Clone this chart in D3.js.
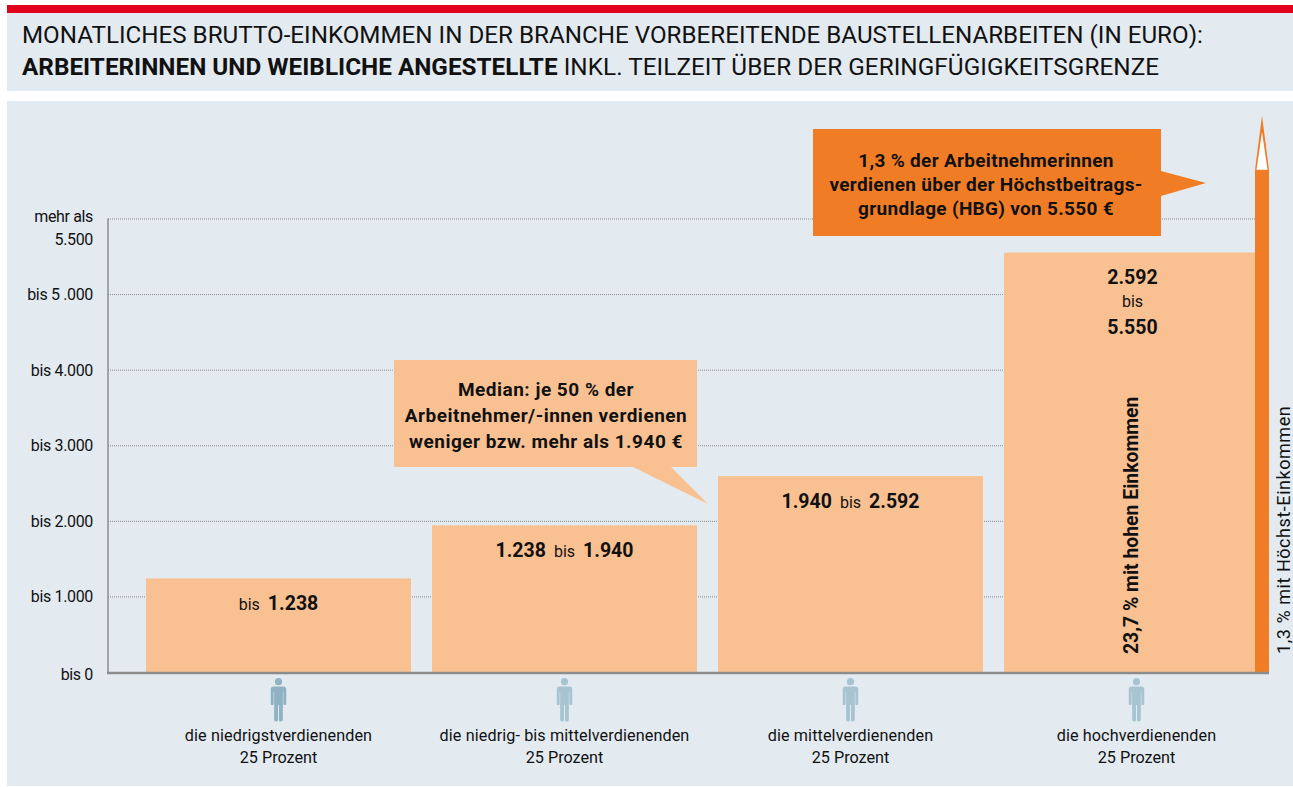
<!DOCTYPE html>
<html>
<head>
<meta charset="utf-8">
<script src="https://cdn.jsdelivr.net/npm/d3@7"></script>
<style>
  html, body { margin: 0; padding: 0; background: #fff; }
  svg { display: block; }
  text { font-family: Roboto, sans-serif; fill: #111; }
  .grid line { stroke: #8a8a8a; stroke-width: 1; stroke-dasharray: 1 1; }
  .grid .domain { display: none; }
</style>
</head>
<body>
<div id="chart"></div>
<script>
const groups = ["die niedrigstverdienenden", "die niedrig- bis mittelverdienenden", "die mittelverdienenden", "die hochverdienenden"];
const upperValues = [1238, 1940, 2592, 5550];
const iconColors = ["#8fb3c3", "#a8c4d2", "#a8c4d2", "#a8c4d2"];
const tickValues = [0, 1000, 2000, 3000, 4000, 5000, 6000];
const tickLabels = ["bis 0", "bis 1.000", "bis 2.000", "bis 3.000", "bis 4.000", "bis 5 .000", "mehr als|5.500"];
const topBarValue = 6645;

const width = 1293;
const height = 787;
const baseY = 672;

const x = d3.scaleBand().domain(groups).range([146, 1269]).paddingInner(21 / 286).paddingOuter(0);
const y = d3.scaleLinear().domain([0, 6000]).range([baseY, 218.5]);

const svg = d3.select("#chart").append("svg")
  .attr("width", width)
  .attr("height", height);

// header
svg.append("rect").attr("x", 7).attr("y", 13).attr("width", width - 7).attr("height", 78).attr("fill", "#e3ebf1");
svg.append("rect").attr("x", 7).attr("y", 5).attr("width", width - 7).attr("height", 8).attr("fill", "#e2001a");
svg.append("rect").attr("x", 7).attr("y", 101).attr("width", width - 7).attr("height", 685).attr("fill", "#e3ebf1");

svg.append("text").attr("x", 22).attr("y", 43).attr("font-size", 24.2)
  .text("MONATLICHES BRUTTO-EINKOMMEN IN DER BRANCHE VORBEREITENDE BAUSTELLENARBEITEN (IN EURO):");
const title2 = svg.append("text").attr("x", 22).attr("y", 75).attr("font-size", 24.3);
title2.append("tspan").attr("font-weight", 700).text("ARBEITERINNEN UND WEIBLICHE ANGESTELLTE");
title2.append("tspan").attr("letter-spacing", 0.05).text(" INKL. TEILZEIT ÜBER DER GERINGFÜGIGKEITSGRENZE");

// axis + dotted grid
const axis = svg.append("g").attr("class", "grid")
  .attr("transform", "translate(108,0)")
  .call(d3.axisRight(y).tickValues(tickValues.slice(1)).tickSize(1147).tickFormat(""));
axis.selectAll("text").remove();

const tickLabel = svg.append("g").selectAll("text")
  .data(tickValues)
  .enter().append("text")
  .attr("text-anchor", "end")
  .attr("font-size", 16)
  .attr("letter-spacing", -0.35)
  .attr("y", (d, i) => y(d) + (i === 6 ? 3 : i === 0 ? 8 : 6));
tickLabel.each(function(d, i) {
  const parts = tickLabels[i].split("|");
  d3.select(this).selectAll("tspan")
    .data(parts)
    .enter().append("tspan")
    .attr("x", 93)
    .attr("dy", (p, j) => j === 0 ? 0 : 23)
    .text(p => p);
});

// bars
const barWidth = (d, i) => i === 3 ? x.bandwidth() - 14 : x.bandwidth();
svg.append("g").selectAll("rect")
  .data(groups)
  .enter().append("rect")
  .attr("x", d => x(d))
  .attr("y", (d, i) => y(upperValues[i]))
  .attr("width", barWidth)
  .attr("height", (d, i) => baseY - y(upperValues[i]))
  .attr("fill", "#f9c192");

// thin top earners bar with the arrow tip
const thinX = x(groups[3]) + x.bandwidth() - 14;
const thinTop = y(topBarValue);
svg.append("rect").attr("x", thinX).attr("y", thinTop).attr("width", 14).attr("height", baseY - thinTop).attr("fill", "#f07d26");
svg.append("path")
  .attr("d", `M${thinX},${thinTop}L${thinX + 7},${thinTop - 54}L${thinX + 14},${thinTop}Z`)
  .attr("fill", "#f07d26");
svg.append("path")
  .attr("d", `M${thinX + 1.5},${thinTop}L${thinX + 7},${thinTop - 38}L${thinX + 12.5},${thinTop}Z`)
  .attr("fill", "#fff");

// base lines
svg.append("line").attr("x1", 108).attr("x2", 108).attr("y1", y(6000)).attr("y2", baseY).attr("stroke", "#8c8c8c").attr("stroke-width", 1.5);
svg.append("line").attr("x1", 107).attr("x2", thinX + 14).attr("y1", baseY + 1).attr("y2", baseY + 1).attr("stroke", "#8c8c8c").attr("stroke-width", 2.5);

// bar labels
const inline = [["bis", "1.238"], ["1.238", "bis", "1.940"], ["1.940", "bis", "2.592"]];
inline.forEach((parts, i) => {
  const t = svg.append("text")
    .attr("x", x(groups[i]) + x.bandwidth() / 2)
    .attr("y", y(upperValues[i]) + 32)
    .attr("text-anchor", "middle");
  parts.forEach((p, j) => {
    const isBis = p === "bis";
    t.append("tspan")
      .attr("font-size", isBis ? 16 : 19.5)
      .attr("font-weight", isBis ? 400 : 700)
      .attr("dx", j === 0 ? 0 : 8)
      .text(p);
  });
});

const topCx = x(groups[3]) + x.bandwidth() / 2 - 4;
[["2.592", 284, 19.5, 700], ["bis", 307, 16, 400], ["5.550", 334, 19.5, 700]].forEach(r => {
  svg.append("text").attr("x", topCx).attr("y", r[1]).attr("text-anchor", "middle")
    .attr("font-size", r[2]).attr("font-weight", r[3]).text(r[0]);
});

svg.append("text").attr("transform", "translate(1138,654) rotate(-90)")
  .attr("font-size", 19.4).attr("font-weight", 700).text("23,7 % mit hohen Einkommen");
svg.append("text").attr("transform", "translate(1290,654) rotate(-90)")
  .attr("font-size", 18).attr("letter-spacing", 0.55).text("1,3 % mit Höchst-Einkommen");

// callouts
svg.append("path").attr("d", "M813,129H1161V171L1206,183L1161,196V236H813Z").attr("fill", "#f07d26");
svg.append("path").attr("d", "M394,360H697V467H671L708,504L633,467H394Z").attr("fill", "#f9c192");

const orangeLines = ["1,3 % der Arbeitnehmerinnen", "verdienen über der Höchstbeitrags-", "grundlage (HBG) von 5.550 €"];
orangeLines.forEach((l, i) => {
  svg.append("text").attr("x", 986).attr("y", 167 + i * 24).attr("text-anchor", "middle")
    .attr("font-size", 19).attr("font-weight", 700).attr("letter-spacing", 0.3).text(l);
});
const medianLines = ["Median: je 50 % der", "Arbeitnehmer/-innen verdienen", "weniger bzw. mehr als 1.940 €"];
medianLines.forEach((l, i) => {
  svg.append("text").attr("x", 546).attr("y", 396 + i * 26).attr("text-anchor", "middle")
    .attr("font-size", 19).attr("font-weight", 700).attr("letter-spacing", 0.5).text(l);
});

// person icons and group labels
const personPath = "M-3.7,-22a3.7,3.7 0 1,1 7.4,0a3.7,3.7 0 1,1 -7.4,0Z"
  + "M-8,-14q0,-3 3,-3H5q3,0 3,3V1q0,1 -1,1H6q-1,0 -1,-1V-11H4.5V17q0,2 -2,2H1.5q-1,0 -1,-2V2H-0.5V17q0,2 -1,2H-2.5q-2,0 -2,-2V-11H-5V1q0,1 -1,1H-7q-1,0 -1,-1Z";
const person = svg.append("g").selectAll("g")
  .data(groups)
  .enter().append("g");
person.append("path")
  .attr("transform", d => `translate(${x(d) + x.bandwidth() / 2},${baseY + 31}) scale(0.97)`)
  .attr("d", personPath)
  .attr("fill", (d, i) => iconColors[i]);
person.append("text")
  .attr("x", d => x(d) + x.bandwidth() / 2)
  .attr("y", 741)
  .attr("text-anchor", "middle")
  .attr("font-size", 16.2)
  .attr("letter-spacing", 0.1)
  .text(d => d);
person.append("text")
  .attr("x", d => x(d) + x.bandwidth() / 2)
  .attr("y", 763)
  .attr("text-anchor", "middle")
  .attr("font-size", 16.2)
  .text("25 Prozent");
</script>
</body>
</html>
